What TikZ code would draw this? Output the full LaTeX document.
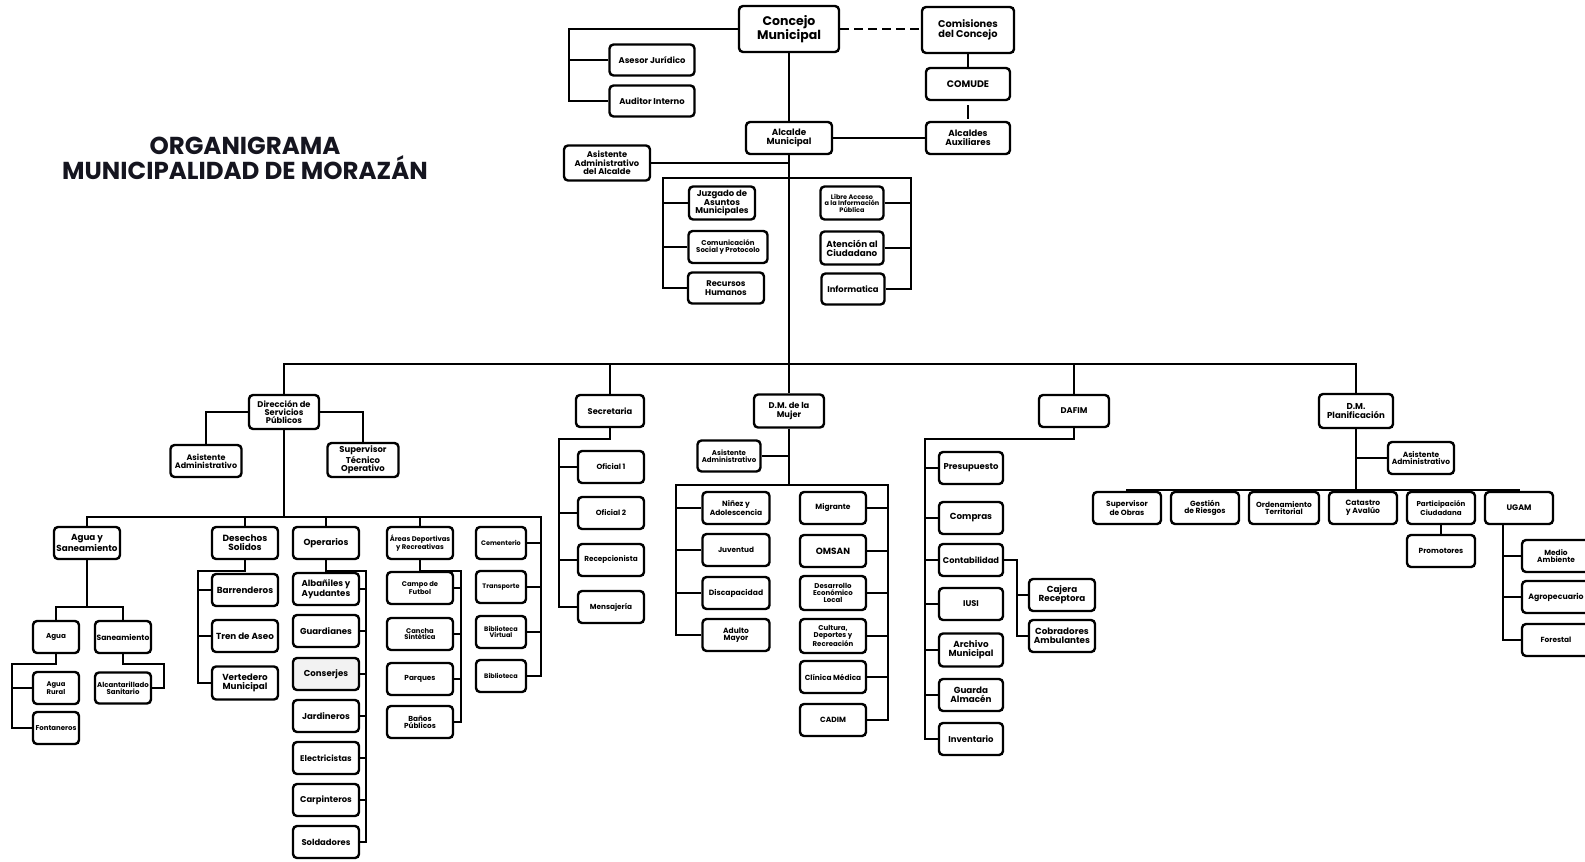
\documentclass[tikz,border=0pt]{standalone}
\usepackage{fontspec}
\setmainfont{Poppins}
\usepackage{tikz}
\definecolor{titlecol}{HTML}{15151F}
\tikzset{
unit/.style={draw, line width=2.4pt, rounded corners=4pt, fill=white, align=center, inner sep=1pt, minimum width=66pt, minimum height=32pt}, % every box of the chart
txt/.style={font=\bfseries\fontsize{#1}{#1}\selectfont}, % text size in pt
sz/.style 2 args={minimum width=#1pt, minimum height=#2pt}, % box size
}
\begin{document}
\begin{tikzpicture}[x=1pt, y=-1pt, line width=2.4pt]
    \useasboundingbox (0,0) rectangle (1585,862);
    \node[font=\bfseries\fontsize{24.5}{25}\selectfont, text=titlecol, align=center] (title) at (245,158) {ORGANIGRAMA\\MUNICIPALIDAD DE MORAZÁN};

    \node[unit, sz={100}{46}, txt=12.5] (concejo) at (789,29) {Concejo\\Municipal};
    \node[unit, sz={92}{46}, txt=9.8] (comisiones) at (968,30) {Comisiones\\del Concejo};
    \node[unit, sz={84}{32}, txt=9.5] (comude) at (968,84) {COMUDE};
    \node[unit, sz={84}{32}, txt=8.8] (auxiliares) at (968,138) {Alcaldes\\Auxiliares};
    \node[unit, sz={86}{32}, txt=8.8] (alcalde) at (789,138) {Alcalde\\Municipal};
    \node[unit, sz={85}{31}, txt=8.4] (asesor) at (652,60) {Asesor Jurídico};
    \node[unit, sz={85}{31}, txt=8.4] (auditor) at (652,101) {Auditor Interno};
    \node[unit, sz={86}{35}, txt=8.3] (asisalc) at (607,163) {Asistente\\Administrativo\\del Alcalde};
    \node[unit, sz={66}{33}, txt=8.5] (juzgado) at (722,203) {Juzgado de\\Asuntos\\Municipales};
    \node[unit, sz={79}{32}, txt=7] (comunicacion) at (728,247) {Comunicación\\Social y Protocolo};
    \node[unit, sz={76}{31}, txt=8.3] (rrhh) at (726,288) {Recursos\\Humanos};
    \node[unit, sz={63}{33}, txt=6.5] (libre) at (852,203) {Libre Acceso\\a la Información\\Pública};
    \node[unit, sz={63}{33}, txt=8.8] (atencion) at (852,248) {Atención al\\Ciudadano};
    \node[unit, sz={63}{31}, txt=8.4] (informatica) at (853,289) {Informatica};

    \node[unit, sz={70}{34}, txt=8.3] (dsp) at (284,412) {Dirección de\\Servicios\\Públicos};
    \node[unit, sz={68}{32}, txt=8.3] (secretaria) at (610,411) {Secretaria};
    \node[unit, sz={70}{33}, txt=8.3] (mujer) at (789,411) {D.M. de la\\Mujer};
    \node[unit, sz={70}{32}, txt=8.3] (dafim) at (1074,411) {DAFIM};
    \node[unit, sz={74}{34}, txt=8.6] (planif) at (1356,411) {D.M.\\Planificación};

    \node[unit, sz={71}{32}, txt=8] (asisdsp) at (206,461) {Asistente\\Administrativo};
    \node[unit, sz={71}{34}, txt=8.5] (supervisor) at (363,460) {Supervisor\\Técnico\\Operativo};
    \node[unit, txt=8.8] (aguasan) at (87,543) {Agua y\\Saneamiento};
    \node[unit, txt=9] (desechos) at (245,543) {Desechos\\Solidos};
    \node[unit, txt=8.8] (operarios) at (326,543) {Operarios};
    \node[unit, txt=6.8] (areas) at (420,543) {Áreas Deportivas\\y Recreativas};
    \node[unit, sz={50}{32}, txt=6.5] (cementerio) at (501,543) {Cementerio};
    \node[unit, sz={50}{32}, txt=6.5] (transporte) at (501,587) {Transporte};
    \node[unit, sz={50}{32}, txt=6.5] (bibvirtual) at (501,632) {Biblioteca\\Virtual};
    \node[unit, sz={50}{32}, txt=6.5] (biblioteca) at (501,676) {Biblioteca};

    \node[unit, sz={46}{32}, txt=7.2] (agua) at (56,637) {Agua};
    \node[unit, sz={56}{32}, txt=7.6] (saneam) at (123,637) {Saneamiento};
    \node[unit, sz={46}{32}, txt=6.8] (aguarural) at (56,688) {Agua\\Rural};
    \node[unit, sz={46}{32}, txt=7] (fontaneros) at (56,728) {Fontaneros};
    \node[unit, sz={56}{31}, txt=7] (alcantarillado) at (123,688) {Alcantarillado\\Sanitario};

    \node[unit, txt=8.8] (barrenderos) at (245,590) {Barrenderos};
    \node[unit, txt=8.8] (tren) at (245,636) {Tren de Aseo};
    \node[unit, sz={66}{33}, txt=8.8] (vertedero) at (245,683) {Vertedero\\Municipal};

    \node[unit, txt=8.6] (albaniles) at (326,589) {Albañiles y\\Ayudantes};
    \node[unit, txt=8.6] (guardianes) at (326,631) {Guardianes};
    \node[unit, txt=8.6, fill=gray!10] (conserjes) at (326,674) {Conserjes};
    \node[unit, txt=8.6] (jardineros) at (326,716) {Jardineros};
    \node[unit, txt=8.2] (electricistas) at (326,758) {Electricistas};
    \node[unit, txt=8.4] (carpinteros) at (326,800) {Carpinteros};
    \node[unit, txt=8.4] (soldadores) at (326,842) {Soldadores};

    \node[unit, txt=6.8] (campo) at (420,588) {Campo de\\Futbol};
    \node[unit, txt=6.8] (cancha) at (420,634) {Cancha\\Sintética};
    \node[unit, txt=7.3] (parques) at (420,679) {Parques};
    \node[unit, txt=7.3] (banos) at (420,722) {Baños\\Públicos};

    \node[unit, txt=7.4] (oficial1) at (611,467) {Oficial 1};
    \node[unit, txt=7.4] (oficial2) at (611,513) {Oficial 2};
    \node[unit, txt=7.3] (recepcion) at (611,560) {Recepcionista};
    \node[unit, txt=7.3] (mensajeria) at (611,607) {Mensajería};

    \node[unit, sz={63}{31}, txt=7] (asismuj) at (729,456) {Asistente\\Administrativo};
    \node[unit, sz={67}{32}, txt=7.5] (ninez) at (736,508) {Niñez y\\Adolescencia};
    \node[unit, sz={67}{32}, txt=7.3] (juventud) at (736,550) {Juventud};
    \node[unit, sz={67}{32}, txt=7.6] (discap) at (736,593) {Discapacidad};
    \node[unit, sz={67}{32}, txt=7.5] (adulto) at (736,635) {Adulto\\Mayor};
    \node[unit, txt=7.5] (migrante) at (833,508) {Migrante};
    \node[unit, txt=9] (omsan) at (833,551) {OMSAN};
    \node[unit, sz={66}{34}, txt=7] (desarrollo) at (833,593) {Desarrollo\\Económico\\Local};
    \node[unit, sz={66}{34}, txt=7] (cultura) at (833,636) {Cultura,\\Deportes y\\Recreación};
    \node[unit, txt=7.4] (clinica) at (833,677) {Clínica Médica};
    \node[unit, txt=7.5] (cadim) at (833,720) {CADIM};

    \node[unit, sz={64}{32}, txt=8.5] (presupuesto) at (971,468) {Presupuesto};
    \node[unit, sz={64}{32}, txt=8.8] (compras) at (971,518) {Compras};
    \node[unit, sz={64}{32}, txt=8.3] (contab) at (971,560) {Contabilidad};
    \node[unit, sz={64}{32}, txt=8.3] (iusi) at (971,604) {IUSI};
    \node[unit, sz={64}{33}, txt=8.8] (archivo) at (971,650) {Archivo\\Municipal};
    \node[unit, sz={64}{32}, txt=8.8] (guarda) at (971,695) {Guarda\\Almacén};
    \node[unit, sz={64}{32}, txt=8.5] (inventario) at (971,739) {Inventario};
    \node[unit, txt=8.8] (cajera) at (1062,595) {Cajera\\Receptora};
    \node[unit, txt=8.8] (cobradores) at (1062,636) {Cobradores\\Ambulantes};

    \node[unit, txt=7.5] (asispl) at (1421,458) {Asistente\\Administrativo};
    \node[unit, sz={68}{32}, txt=7.5] (supobras) at (1127,508) {Supervisor\\de Obras};
    \node[unit, sz={68}{32}, txt=7.5] (gestion) at (1205,508) {Gestión\\de Riesgos};
    \node[unit, sz={70}{32}, txt=7.4] (ordenam) at (1284,508) {Ordenamiento\\Territorial};
    \node[unit, sz={68}{32}, txt=7.6] (catastro) at (1363,508) {Catastro\\y Avalúo};
    \node[unit, sz={68}{32}, txt=7.1] (particip) at (1441,508) {Participación\\Ciudadana};
    \node[unit, sz={68}{32}, txt=8] (ugam) at (1519,508) {UGAM};
    \node[unit, sz={68}{32}, txt=7.4] (promotores) at (1441,551) {Promotores};
    \node[unit, sz={68}{32}, txt=7.4] (medio) at (1556,556) {Medio\\Ambiente};
    \node[unit, sz={68}{32}, txt=7.8] (agro) at (1556,597) {Agropecuario};
    \node[unit, sz={68}{32}, txt=7.4] (forestal) at (1556,640) {Forestal};

    \coordinate (juridico) at (569,101);
    \coordinate (staffL) at (663,178);
    \coordinate (staffR) at (911,178);
    \coordinate (bus) at (789,364);

    \draw (concejo.west) -| (juridico) -- (auditor.west);
    \draw (asesor.west) -- (asesor.west -| juridico);
    \draw [dash pattern=on 9pt off 5pt] (concejo.east) -- (concejo.east -| comisiones.west);
    \draw (comisiones.south) -- (comude.north);
    \draw [dash pattern=on 0pt off 4pt on 14pt off 10pt] (comude.south) -- (auxiliares.north);
    \draw (concejo.south) -- (alcalde.north);
    \draw (alcalde.south) -- (mujer.north);
    \draw (alcalde.east) -- (auxiliares.west);
    \draw (asisalc.east) -- (asisalc.east -| bus);
    \draw (rrhh.west) -| (staffL) -- (staffR) |- (informatica.east);
    \draw (juzgado.west) -- (juzgado.west -| staffL);
    \draw (comunicacion.west) -- (comunicacion.west -| staffL);
    \draw (libre.east) -- (libre.east -| staffR);
    \draw (atencion.east) -- (atencion.east -| staffR);

    \draw (dsp.north) |- (bus) -| (planif.north);
    \draw (secretaria.north) -- (secretaria.north |- bus);
    \draw (dafim.north) -- (dafim.north |- bus);

    \coordinate (dspbus) at (284,517);
    \coordinate (servR) at (541,517);
    \draw (dsp.west) -| (asisdsp.north);
    \draw (dsp.east) -| (supervisor.north);
    \draw (dsp.south) -- (dspbus);
    \draw (aguasan.north) |- (servR) |- (biblioteca.east);
    \draw (desechos.north) -- (desechos.north |- servR);
    \draw (operarios.north) -- (operarios.north |- servR);
    \draw (areas.north) -- (areas.north |- servR);
    \draw (cementerio.east) -- (cementerio.east -| servR);
    \draw (transporte.east) -- (transporte.east -| servR);
    \draw (bibvirtual.east) -- (bibvirtual.east -| servR);

    \coordinate (aguaj) at (87,607);
    \coordinate (ruralj) at (12,664);
    \coordinate (sanj) at (164,664);
    \draw (aguasan.south) -- (aguaj);
    \draw (agua.north) |- (aguaj) -| (saneam.north);
    \draw (agua.south) |- (ruralj) |- (fontaneros.west);
    \draw (aguarural.west) -- (aguarural.west -| ruralj);
    \draw (saneam.south) |- (sanj) |- (alcantarillado.east);

    \coordinate (desj) at (198,571);
    \draw (desechos.south) |- (desj) |- (vertedero.west);
    \draw (barrenderos.west) -- (barrenderos.west -| desj);
    \draw (tren.west) -- (tren.west -| desj);

    \coordinate (opj) at (366,571);
    \draw (operarios.south) |- (opj) |- (soldadores.east);
    \draw (albaniles.east) -- (albaniles.east -| opj);
    \draw (guardianes.east) -- (guardianes.east -| opj);
    \draw (conserjes.east) -- (conserjes.east -| opj);
    \draw (jardineros.east) -- (jardineros.east -| opj);
    \draw (electricistas.east) -- (electricistas.east -| opj);
    \draw (carpinteros.east) -- (carpinteros.east -| opj);

    \coordinate (areasj) at (461,571);
    \draw (areas.south) |- (areasj) |- (banos.east);
    \draw (campo.east) -- (campo.east -| areasj);
    \draw (cancha.east) -- (cancha.east -| areasj);
    \draw (parques.east) -- (parques.east -| areasj);

    \coordinate (secj) at (559,439);
    \draw (secretaria.south) |- (secj) |- (mensajeria.west);
    \draw (oficial1.west) -- (oficial1.west -| secj);
    \draw (oficial2.west) -- (oficial2.west -| secj);
    \draw (recepcion.west) -- (recepcion.west -| secj);

    \coordinate (mujbus) at (789,485);
    \coordinate (mujL) at (676,485);
    \coordinate (mujR) at (888,485);
    \draw (mujer.south) -- (mujbus);
    \draw (asismuj.east) -- (asismuj.east -| mujbus);
    \draw (adulto.west) -| (mujL) -- (mujR) |- (cadim.east);
    \draw (ninez.west) -- (ninez.west -| mujL);
    \draw (juventud.west) -- (juventud.west -| mujL);
    \draw (discap.west) -- (discap.west -| mujL);
    \draw (migrante.east) -- (migrante.east -| mujR);
    \draw (omsan.east) -- (omsan.east -| mujR);
    \draw (desarrollo.east) -- (desarrollo.east -| mujR);
    \draw (cultura.east) -- (cultura.east -| mujR);
    \draw (clinica.east) -- (clinica.east -| mujR);

    \coordinate (dafj) at (925,439);
    \coordinate (contj) at (1017,636);
    \draw (dafim.south) |- (dafj) |- (inventario.west);
    \draw (presupuesto.west) -- (presupuesto.west -| dafj);
    \draw (compras.west) -- (compras.west -| dafj);
    \draw (contab.west) -- (contab.west -| dafj);
    \draw (iusi.west) -- (iusi.west -| dafj);
    \draw (archivo.west) -- (archivo.west -| dafj);
    \draw (guarda.west) -- (guarda.west -| dafj);
    \draw (contab.east) -| (contj) -- (cobradores.west);
    \draw (cajera.west) -- (cajera.west -| contj);

    \coordinate (plbus) at (1356,490);
    \coordinate (ugamj) at (1503,0);
    \draw (planif.south) -- (plbus);
    \draw (asispl.west) -- (asispl.west -| plbus);
    \draw (supobras.north) |- (plbus) -| (ugam.north);
    \draw (gestion.north) -- (gestion.north |- plbus);
    \draw (ordenam.north) -- (ordenam.north |- plbus);
    \draw (catastro.north) -- (catastro.north |- plbus);
    \draw (particip.north) -- (particip.north |- plbus);
    \draw (particip.south) -- (promotores.north);
    \draw (ugam.south -| ugamj) |- (forestal.west);
    \draw (medio.west) -- (medio.west -| ugamj);
    \draw (agro.west) -- (agro.west -| ugamj);
\end{tikzpicture}
\end{document}
